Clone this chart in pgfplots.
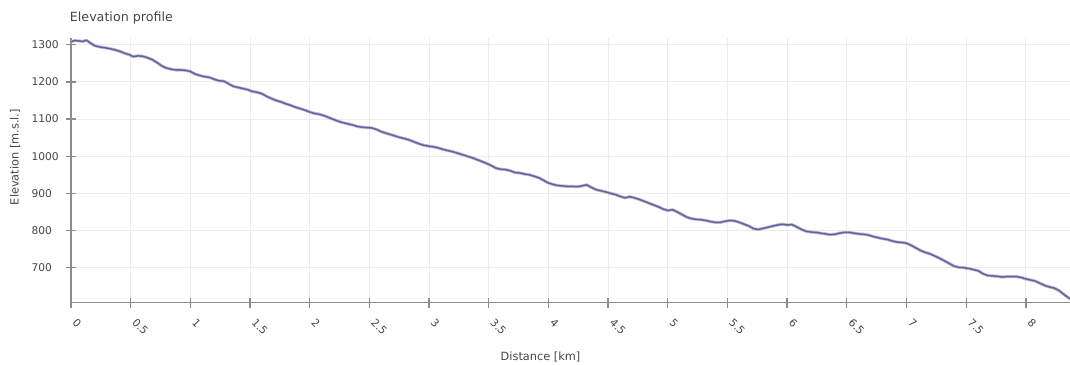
\documentclass[border=0pt]{standalone}
\usepackage{pgfplots}
\pgfplotsset{compat=1.18}
\usepackage{fontspec}
\setmainfont{DejaVu Sans}
\definecolor{linedark}{RGB}{100,100,152}
\definecolor{linehalo}{RGB}{185,185,220}
\definecolor{gridc}{RGB}{236,236,236}
\definecolor{axisc}{RGB}{140,140,140}
\definecolor{txtc}{RGB}{70,70,70}
\pgfplotstableread{
x y
0.00 1308
0.03 1311
0.07 1310
0.10 1309
0.13 1312
0.16 1305
0.20 1297
0.24 1294
0.28 1292
0.33 1289
0.37 1286
0.41 1282
0.45 1277
0.49 1273
0.52 1268
0.56 1270
0.60 1269
0.64 1265
0.68 1260
0.72 1252
0.76 1243
0.80 1237
0.84 1234
0.88 1232
0.92 1232
0.96 1231
1.00 1228
1.04 1221
1.08 1217
1.12 1214
1.16 1212
1.20 1207
1.24 1203
1.28 1202
1.32 1195
1.36 1188
1.40 1185
1.44 1182
1.48 1179
1.52 1174
1.56 1172
1.60 1168
1.64 1161
1.68 1155
1.72 1150
1.76 1146
1.80 1141
1.84 1137
1.88 1132
1.92 1128
1.96 1124
2.00 1119
2.04 1115
2.08 1113
2.12 1109
2.16 1104
2.20 1099
2.24 1094
2.28 1090
2.32 1087
2.36 1084
2.40 1080
2.44 1078
2.48 1077
2.52 1076
2.56 1072
2.60 1066
2.64 1062
2.68 1058
2.72 1054
2.76 1050
2.80 1047
2.84 1043
2.88 1038
2.92 1033
2.96 1029
3.00 1027
3.04 1025
3.08 1022
3.12 1018
3.16 1015
3.20 1012
3.24 1008
3.28 1004
3.32 1000
3.36 996
3.40 991
3.44 986
3.48 981
3.52 975
3.56 968
3.60 965
3.64 964
3.68 961
3.72 956
3.76 955
3.80 952
3.84 950
3.88 946
3.92 942
3.96 935
4.00 928
4.04 924
4.08 921
4.12 920
4.16 919
4.20 919
4.24 918
4.28 920
4.32 923
4.36 916
4.40 910
4.44 907
4.48 904
4.52 900
4.56 897
4.60 892
4.64 888
4.68 891
4.72 888
4.76 884
4.80 879
4.84 874
4.88 869
4.92 864
4.96 858
5.00 854
5.04 856
5.08 850
5.12 843
5.16 836
5.20 832
5.24 830
5.28 829
5.32 827
5.36 824
5.40 822
5.44 822
5.48 825
5.52 827
5.56 826
5.60 822
5.64 817
5.68 812
5.72 805
5.76 803
5.80 806
5.84 809
5.88 812
5.92 815
5.96 817
6.00 815
6.04 816
6.08 810
6.12 803
6.16 798
6.20 796
6.24 795
6.28 793
6.32 791
6.36 789
6.40 790
6.44 793
6.48 795
6.52 795
6.56 793
6.60 791
6.64 790
6.68 788
6.72 784
6.76 781
6.80 778
6.84 776
6.88 772
6.92 769
6.96 768
7.00 766
7.04 760
7.08 753
7.12 746
7.16 741
7.20 737
7.24 731
7.28 725
7.32 718
7.36 711
7.40 704
7.44 701
7.48 700
7.52 698
7.56 695
7.60 692
7.64 684
7.68 679
7.72 678
7.76 677
7.80 675
7.84 676
7.88 676
7.92 676
7.96 674
8.00 670
8.04 667
8.08 664
8.12 658
8.16 652
8.20 648
8.24 645
8.28 638
8.32 628
8.37 616
}\profile
\begin{document}
\begin{tikzpicture}
\begin{axis}[
  scale only axis,
  width=749.25pt, height=198.5pt,
  xmin=0, xmax=8.37, ymin=606, ymax=1318,
  axis lines=left,
  axis line style={axisc, line width=1.2pt, -},
  xtick={0,0.5,...,8},
  ytick={700,800,...,1300},
  grid=major,
  major grid style={gridc, line width=0.7pt},
  tick align=center,
  major tick length=7.5pt,
  tick style={axisc, line width=1pt},
  /pgf/number format/assume math mode=true,
  /pgf/number format/1000 sep={},
  tick label style={font=\fontsize{8}{9.6}\selectfont, text=txtc},
  yticklabel style={anchor=west, xshift=-29.4pt},
  xticklabel style={xshift=4.9pt, yshift=-2.8pt, rotate=-45, anchor=north west},
  xlabel={Distance [km]},
  ylabel={Elevation [m.s.l.]},
  label style={font=\fontsize{8.5}{10}\selectfont, text=txtc},
  xlabel style={at={(axis description cs:0.47,0)}, anchor=center, yshift=-40.5pt},
  ylabel style={at={(axis description cs:-0.056,0.55)}, anchor=center},
  title={Elevation profile},
  title style={at={(axis description cs:0,1)}, anchor=base west, yshift=6pt, xshift=-1pt, font=\fontsize{9.5}{11}\selectfont, text=txtc, inner sep=0pt},
  clip=false,
]
\addplot[linehalo, line width=2.3pt, line join=round] table[x=x,y=y] {\profile};
\addplot[linedark, line width=1.1pt, line join=round] table[x=x,y=y] {\profile};
\end{axis}
\pgfresetboundingbox
\path[use as bounding box] ([xshift=-53.25pt,yshift=-46.5pt]current axis.south west) rectangle ([yshift=28.5pt]current axis.north east);
\end{tikzpicture}
\end{document}
